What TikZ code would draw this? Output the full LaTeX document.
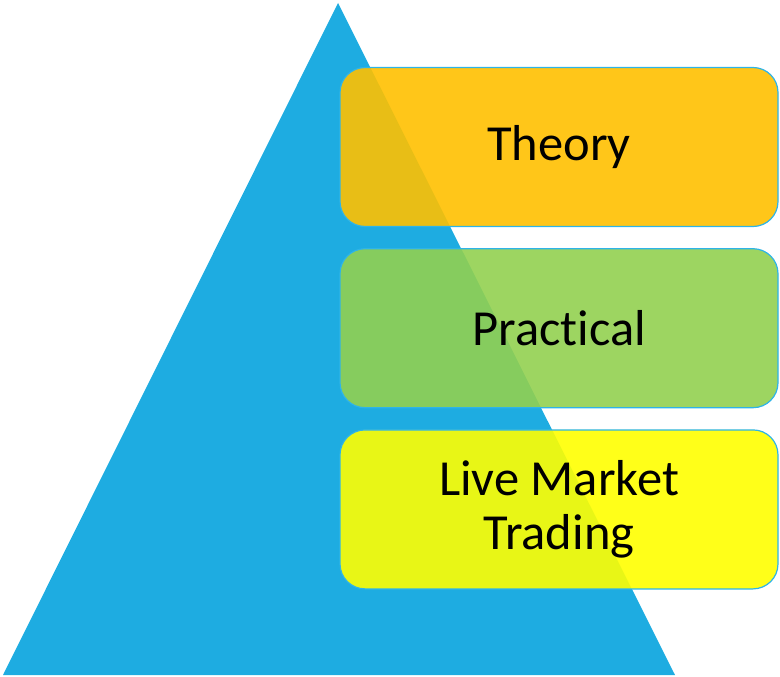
\documentclass[tikz,border=0pt]{standalone}
\usepackage{fontspec}
\setmainfont{Carlito}[Ligatures=NoCommon]
\usetikzlibrary{positioning}
\definecolor{pyrblue}{RGB}{30,172,225}
\definecolor{edgeblue}{RGB}{46,180,232}
\definecolor{theoryorange}{RGB}{255,192,0}
\definecolor{practicalgreen}{RGB}{146,208,80}
\definecolor{liveyellow}{RGB}{255,255,0}

\begin{document}
\begin{tikzpicture}[x=1pt, y=-1pt, node distance = {21pt}, level/.style = {draw=edgeblue, line width=1.2pt, rounded corners=25pt, minimum width=438pt, minimum height=159pt, fill opacity=0.9, text opacity=1, align=center, font=\fontsize{50.5}{54}\selectfont}]
	\useasboundingbox (0,0) rectangle (780,677);
	\coordinate (apex) at (338,3);
	\coordinate (left) at (3,675);
	\coordinate (right) at (675,675);
	\fill[pyrblue] (apex) -- (right) -- (left) -- cycle;
	\node[level, fill=theoryorange] (theory) at (559,147){Theory};
	\node[level, fill=practicalgreen, below=of theory] (practical){Practical};
	\node[level, fill=liveyellow, below=of practical] (live){Live Market\\Trading};
\end{tikzpicture}
\end{document}
